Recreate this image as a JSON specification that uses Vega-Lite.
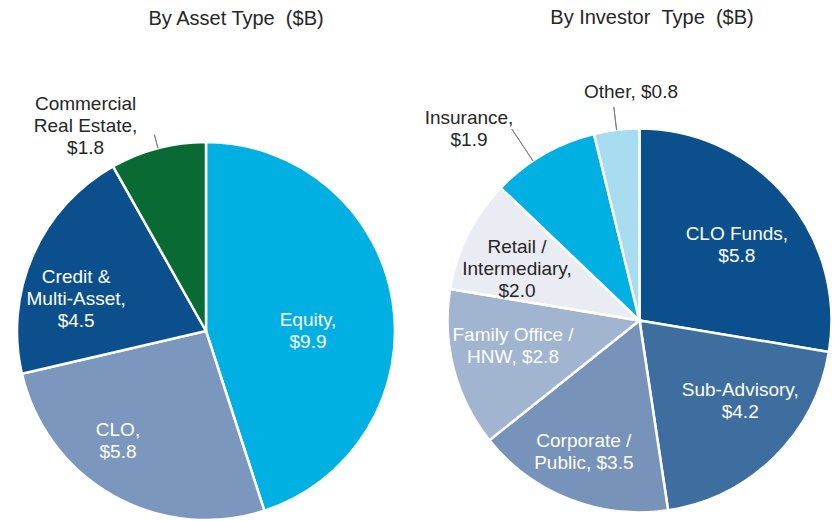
{
  "$schema": "https://vega.github.io/schema/vega-lite/v6.json",
  "padding": {"left": 0, "top": 8, "right": 0, "bottom": 0},
  "background": "white",
  "config": {"view": {"stroke": null}, "title": {"font": "Liberation Sans", "fontSize": 20, "fontWeight": "normal", "color": "#262626"}},
  "bounds": "flush",
  "spacing": 36,
  "resolve": {"scale": {"theta": "independent", "color": "independent"}},
  "hconcat": [
    {
      "width": 412,
      "height": 402,
      "title": {"text": "By Asset Type \u00a0($B)", "dx": 30, "offset": 66.5},
      "data": {"values": [
        {"order": 1, "name": "Equity", "value": 9.9, "label": "Equity,\n$9.9"},
        {"order": 2, "name": "CLO", "value": 5.8, "label": "CLO,\n$5.8"},
        {"order": 3, "name": "Credit & Multi-Asset", "value": 4.5, "label": "Credit &\nMulti-Asset,\n$4.5"},
        {"order": 4, "name": "Commercial Real Estate", "value": 1.8, "label": "Commercial\nReal Estate,\n$1.8"}
      ]},
      "encoding": {
        "theta": {"field": "value", "type": "quantitative", "stack": true},
        "order": {"field": "order", "type": "quantitative"}
      },
      "layer": [
        {"mark": {"type": "arc", "radius": 189, "stroke": "white", "strokeWidth": 2.5},
         "encoding": {"color": {"field": "name", "type": "nominal", "legend": null,
           "scale": {"domain": ["Equity", "CLO", "Credit & Multi-Asset", "Commercial Real Estate"], "range": ["#00B0E2", "#7B97BE", "#0B508C", "#0A6A33"]}}}},
        {"mark": {"type": "arc", "radius": 203, "radius2": 189, "padAngle": 1, "fill": null, "stroke": "#7f7f7f", "strokeWidth": 1},
         "encoding": {"opacity": {"condition": {"test": "datum.order === 4", "value": 1}, "value": 0}}},
        {"mark": {"type": "text", "radius": 120, "dx": -16.5, "dy": 8, "color": "white", "font": "Liberation Sans", "fontSize": 19, "lineBreak": "\n", "lineHeight": 22, "align": "center", "baseline": "middle"},
         "encoding": {"text": {"condition": {"test": "datum.order === 1", "field": "label"}, "value": ""}}},
        {"mark": {"type": "text", "radius": 120, "dx": -29, "dy": -5, "color": "white", "font": "Liberation Sans", "fontSize": 19, "lineBreak": "\n", "lineHeight": 22, "align": "center", "baseline": "middle"},
         "encoding": {"text": {"condition": {"test": "datum.order === 2", "field": "label"}, "value": ""}}},
        {"mark": {"type": "text", "radius": 120, "dx": -20, "dy": -6, "color": "white", "font": "Liberation Sans", "fontSize": 19, "lineBreak": "\n", "lineHeight": 22, "align": "center", "baseline": "middle"},
         "encoding": {"text": {"condition": {"test": "datum.order === 3", "field": "label"}, "value": ""}}},
        {"mark": {"type": "text", "radius": 100, "dx": -95, "dy": -130, "color": "#262626", "font": "Liberation Sans", "fontSize": 19, "lineBreak": "\n", "lineHeight": 22, "align": "center", "baseline": "middle"},
         "encoding": {"text": {"condition": {"test": "datum.order === 4", "field": "label"}, "value": ""}}}
      ]
    },
    {
      "width": 383,
      "height": 381,
      "title": {"text": "By Investor \u00a0Type \u00a0($B)", "dx": 12.5, "offset": 54.5},
      "data": {"values": [
        {"order": 1, "name": "CLO Funds", "value": 5.8, "label": "CLO Funds,\n$5.8"},
        {"order": 2, "name": "Sub-Advisory", "value": 4.2, "label": "Sub-Advisory,\n$4.2"},
        {"order": 3, "name": "Corporate / Public", "value": 3.5, "label": "Corporate /\nPublic, $3.5"},
        {"order": 4, "name": "Family Office / HNW", "value": 2.8, "label": "Family Office /\nHNW, $2.8"},
        {"order": 5, "name": "Retail / Intermediary", "value": 2.0, "label": "Retail /\nIntermediary,\n$2.0"},
        {"order": 6, "name": "Insurance", "value": 1.9, "label": "Insurance,\n$1.9"},
        {"order": 7, "name": "Other", "value": 0.8, "label": "Other, $0.8"}
      ]},
      "encoding": {
        "theta": {"field": "value", "type": "quantitative", "stack": true},
        "order": {"field": "order", "type": "quantitative"}
      },
      "layer": [
        {"mark": {"type": "arc", "radius": 192, "stroke": "white", "strokeWidth": 2.5},
         "encoding": {"color": {"field": "name", "type": "nominal", "legend": null,
           "scale": {"domain": ["CLO Funds", "Sub-Advisory", "Corporate / Public", "Family Office / HNW", "Retail / Intermediary", "Insurance", "Other"], "range": ["#0B508C", "#3E6EA0", "#7893BA", "#A1B4D0", "#E9ECF2", "#00B0E2", "#A8DCF0"]}}}},
        {"mark": {"type": "arc", "radius": 230, "radius2": 192, "padAngle": 1, "thetaOffset": -0.0646, "fill": null, "stroke": "#7f7f7f", "strokeWidth": 1},
         "encoding": {"opacity": {"condition": {"test": "datum.order === 6", "value": 1}, "value": 0}}},
        {"mark": {"type": "arc", "radius": 215, "radius2": 192, "padAngle": 1, "fill": null, "stroke": "#7f7f7f", "strokeWidth": 1},
         "encoding": {"opacity": {"condition": {"test": "datum.order === 7", "value": 1}, "value": 0}}},
        {"mark": {"type": "text", "radius": 125, "dx": 2, "dy": -6, "color": "white", "font": "Liberation Sans", "fontSize": 19, "lineBreak": "\n", "lineHeight": 22, "align": "center", "baseline": "middle"},
         "encoding": {"text": {"condition": {"test": "datum.order === 1", "field": "label"}, "value": ""}}},
        {"mark": {"type": "text", "radius": 125, "dx": 13, "dy": -19.5, "color": "white", "font": "Liberation Sans", "fontSize": 19, "lineBreak": "\n", "lineHeight": 22, "align": "center", "baseline": "middle"},
         "encoding": {"text": {"condition": {"test": "datum.order === 2", "field": "label"}, "value": ""}}},
        {"mark": {"type": "text", "radius": 125, "dx": -10, "dy": 4, "color": "white", "font": "Liberation Sans", "fontSize": 19, "lineBreak": "\n", "lineHeight": 22, "align": "center", "baseline": "middle"},
         "encoding": {"text": {"condition": {"test": "datum.order === 3", "field": "label"}, "value": ""}}},
        {"mark": {"type": "text", "radius": 125, "dx": -5.5, "dy": -17, "color": "white", "font": "Liberation Sans", "fontSize": 19, "lineBreak": "\n", "lineHeight": 22, "align": "center", "baseline": "middle"},
         "encoding": {"text": {"condition": {"test": "datum.order === 4", "field": "label"}, "value": ""}}},
        {"mark": {"type": "text", "radius": 125, "dx": -10.7, "dy": -17.5, "color": "#262626", "font": "Liberation Sans", "fontSize": 19, "lineBreak": "\n", "lineHeight": 22, "align": "center", "baseline": "middle"},
         "encoding": {"text": {"condition": {"test": "datum.order === 5", "field": "label"}, "value": ""}}},
        {"mark": {"type": "text", "radius": 100, "dx": -120.5, "dy": -116, "color": "#262626", "font": "Liberation Sans", "fontSize": 19, "lineBreak": "\n", "lineHeight": 22, "align": "center", "baseline": "middle"},
         "encoding": {"text": {"condition": {"test": "datum.order === 6", "field": "label"}, "value": ""}}},
        {"mark": {"type": "text", "radius": 150, "dx": 9.4, "dy": -79.6, "color": "#262626", "font": "Liberation Sans", "fontSize": 19, "lineBreak": "\n", "lineHeight": 22, "align": "center", "baseline": "middle"},
         "encoding": {"text": {"condition": {"test": "datum.order === 7", "field": "label"}, "value": ""}}}
      ]
    }
  ]
}
